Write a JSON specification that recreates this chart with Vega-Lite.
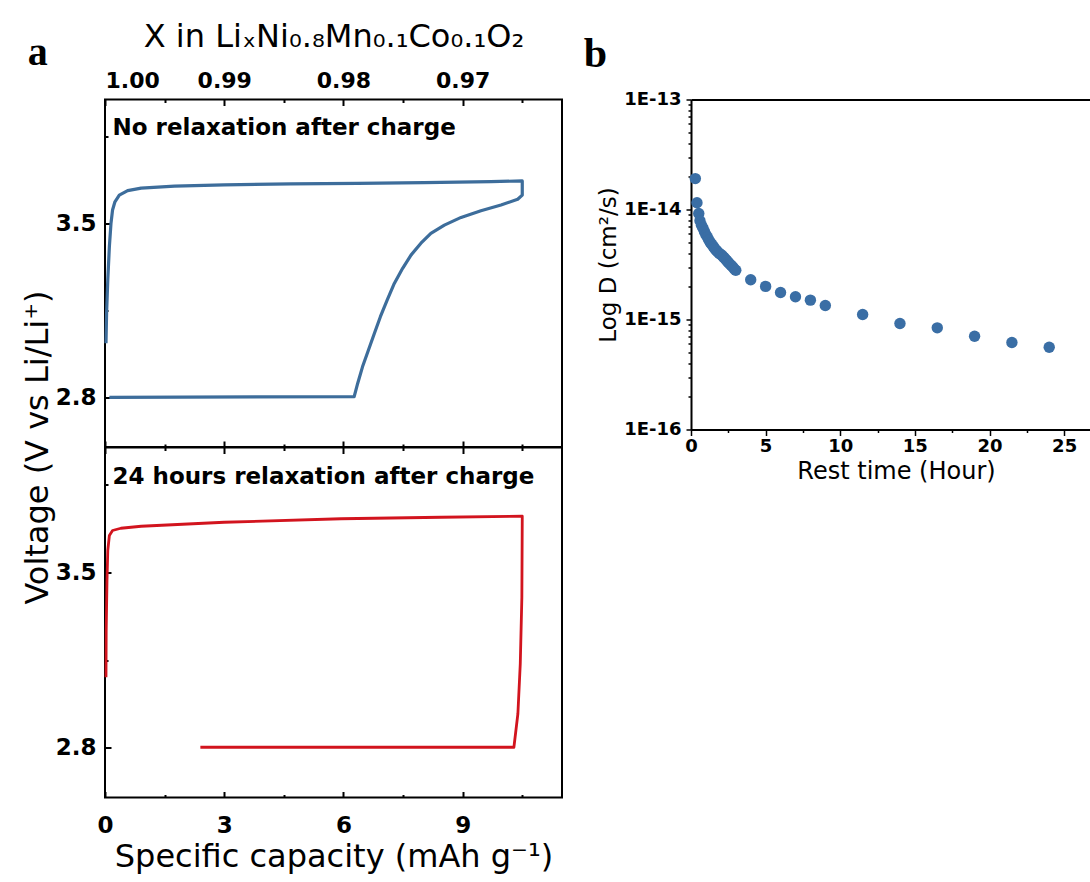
{
  "$schema": "https://vega.github.io/schema/vega-lite/v6.json",
  "background": "white",
  "padding": {"left": 20, "top": 19.5, "right": 0, "bottom": 0},
  "config": {
    "font": "DejaVu Sans",
    "view": {"stroke": "black", "strokeWidth": 2},
    "axis": {"grid": false, "labelColor": "black", "titleColor": "black", "tickColor": "black", "domainColor": "black", "labelFont": "DejaVu Sans", "titleFont": "DejaVu Sans", "labelFontWeight": "bold", "titleFontWeight": "normal"}
  },
  "bounds": "flush",
  "columns": 2,
  "spacing": {"row": 0, "column": 129},
  "concat": [
    {
      "width": 457,
      "height": 347.5,
      "layer": [
        {
          "data": {"values": [
            {"o": 1, "cap": 0.025, "v": 3.018},
            {"o": 2, "cap": 0.04, "v": 3.139},
            {"o": 3, "cap": 0.07, "v": 3.273},
            {"o": 4, "cap": 0.11, "v": 3.407},
            {"o": 5, "cap": 0.15, "v": 3.5},
            {"o": 6, "cap": 0.19, "v": 3.555},
            {"o": 7, "cap": 0.25, "v": 3.588},
            {"o": 8, "cap": 0.36, "v": 3.615},
            {"o": 9, "cap": 0.57, "v": 3.633},
            {"o": 10, "cap": 0.91, "v": 3.643},
            {"o": 11, "cap": 1.75, "v": 3.651},
            {"o": 12, "cap": 3.0, "v": 3.656},
            {"o": 13, "cap": 4.68, "v": 3.66},
            {"o": 14, "cap": 6.36, "v": 3.662},
            {"o": 15, "cap": 8.03, "v": 3.665},
            {"o": 16, "cap": 9.71, "v": 3.669},
            {"o": 17, "cap": 10.5, "v": 3.672},
            {"o": 18, "cap": 10.5, "v": 3.615},
            {"o": 19, "cap": 10.385, "v": 3.598},
            {"o": 20, "cap": 9.965, "v": 3.575},
            {"o": 21, "cap": 9.46, "v": 3.552},
            {"o": 22, "cap": 8.96, "v": 3.525},
            {"o": 23, "cap": 8.54, "v": 3.494},
            {"o": 24, "cap": 8.2, "v": 3.461},
            {"o": 25, "cap": 7.95, "v": 3.421},
            {"o": 26, "cap": 7.7, "v": 3.373},
            {"o": 27, "cap": 7.49, "v": 3.32},
            {"o": 28, "cap": 7.28, "v": 3.259},
            {"o": 29, "cap": 7.1, "v": 3.192},
            {"o": 30, "cap": 6.93, "v": 3.125},
            {"o": 31, "cap": 6.78, "v": 3.058},
            {"o": 32, "cap": 6.63, "v": 2.991},
            {"o": 33, "cap": 6.48, "v": 2.923},
            {"o": 34, "cap": 6.36, "v": 2.857},
            {"o": 35, "cap": 6.27, "v": 2.803},
            {"o": 36, "cap": 0.11, "v": 2.8}
          ]},
          "mark": {"type": "line", "color": "#3d6d9b", "strokeWidth": 3.2, "strokeJoin": "round"},
          "encoding": {
            "x": {"field": "cap", "type": "quantitative", "scale": {"domain": [0, 11.5], "nice": false},
              "axis": {"orient": "bottom", "values": [0, 1.5, 3, 4.5, 6, 7.5, 9, 10.5], "domain": false, "labels": false, "title": null, "tickWidth": 2,
                "tickSize": {"condition": {"test": "datum.value % 3 != 0", "value": -3}, "value": -6}}},
            "y": {"field": "v", "type": "quantitative", "scale": {"domain": [2.6, 4.0], "nice": false},
              "axis": {"orient": "left", "values": [2.8, 3.15, 3.5, 3.85], "domain": false, "tickWidth": 2,
                "tickSize": {"condition": {"test": "abs(datum.value - 2.8) < 0.01 || abs(datum.value - 3.5) < 0.01", "value": -6}, "value": -3},
                "labelExpr": "(abs(datum.value - 2.8) < 0.01 || abs(datum.value - 3.5) < 0.01) ? format(datum.value, '.1f') : ''",
                "labelFontSize": 23, "labelPadding": 15, "labelBaseline": "middle",
                "title": "Voltage (V vs Li/Li⁺)", "titleFontSize": 32, "titleAngle": -90, "titleAlign": "center", "titleBaseline": "alphabetic", "titleX": -58, "titleY": 347.5}},
            "order": {"field": "o", "type": "quantitative"}
          }
        },
        {
          "data": {"values": [{"label": "No relaxation after charge"}]},
          "mark": {"type": "text", "align": "left", "baseline": "alphabetic", "fontSize": 23, "fontWeight": "bold", "font": "DejaVu Sans", "color": "black"},
          "encoding": {
            "x": {"datum": 0.19, "type": "quantitative",
              "axis": {"orient": "top", "values": [0, 1.5, 3, 4.5, 6, 7.5, 9, 10.5], "domain": false, "tickWidth": 2,
                "tickSize": {"condition": {"test": "datum.value % 3 != 0", "value": -3}, "value": -6},
                "labelExpr": "datum.value % 3 == 0 ? format(1 - datum.value / 300, '.2f') : ''",
                "labelFontSize": 22, "labelPadding": 18, "labelBaseline": "alphabetic",
                "title": "X in LiₓNi₀.₈Mn₀.₁Co₀.₁O₂", "titleFontSize": 32, "titleX": 228.5, "titleY": -53, "titleBaseline": "alphabetic", "titleAlign": "center"}},
            "y": {"datum": 3.855, "type": "quantitative"},
            "text": {"field": "label"}
          }
        },
        {
          "data": {"values": [{"label": "a"}]},
          "mark": {"type": "text", "align": "left", "baseline": "alphabetic", "fontSize": 40, "fontWeight": "bold", "font": "Liberation Serif", "color": "black"},
          "encoding": {
            "x": {"datum": -1.945, "type": "quantitative", "axis": null},
            "y": {"datum": 4.139, "type": "quantitative"},
            "text": {"field": "label"}
          }
        }
      ],
      "resolve": {"axis": {"x": "independent"}}
    },
    {
      "width": 400,
      "height": 330,
      "view": {"stroke": null},
      "layer": [
        {
          "data": {"values": [
            {"t": 0.29, "D": 1.91e-14},
            {"t": 0.4, "D": 1.15e-14},
            {"t": 0.52, "D": 9.2e-15},
            {"t": 0.6, "D": 7.9e-15},
            {"t": 0.7, "D": 7.2e-15},
            {"t": 0.8, "D": 6.8e-15},
            {"t": 0.9, "D": 6.3e-15},
            {"t": 1.0, "D": 5.9e-15},
            {"t": 1.1, "D": 5.6e-15},
            {"t": 1.2, "D": 5.25e-15},
            {"t": 1.3, "D": 5.0e-15},
            {"t": 1.4, "D": 4.8e-15},
            {"t": 1.5, "D": 4.6e-15},
            {"t": 1.6, "D": 4.4e-15},
            {"t": 1.7, "D": 4.25e-15},
            {"t": 1.8, "D": 4.1e-15},
            {"t": 1.9, "D": 3.98e-15},
            {"t": 2.0, "D": 3.9e-15},
            {"t": 2.1, "D": 3.8e-15},
            {"t": 2.2, "D": 3.67e-15},
            {"t": 2.3, "D": 3.55e-15},
            {"t": 2.4, "D": 3.43e-15},
            {"t": 2.5, "D": 3.3e-15},
            {"t": 2.6, "D": 3.2e-15},
            {"t": 2.7, "D": 3.1e-15},
            {"t": 2.8, "D": 3.0e-15},
            {"t": 2.9, "D": 2.88e-15},
            {"t": 3.0, "D": 2.8e-15},
            {"t": 4.0, "D": 2.3e-15},
            {"t": 5.0, "D": 2.0e-15},
            {"t": 6.0, "D": 1.76e-15},
            {"t": 7.0, "D": 1.61e-15},
            {"t": 8.0, "D": 1.5e-15},
            {"t": 9.0, "D": 1.34e-15},
            {"t": 11.5, "D": 1.11e-15},
            {"t": 14.0, "D": 9.2e-16},
            {"t": 16.5, "D": 8.4e-16},
            {"t": 19.0, "D": 7.05e-16},
            {"t": 21.5, "D": 6.18e-16},
            {"t": 24.0, "D": 5.6e-16}
          ]},
          "mark": {"type": "circle", "size": 130, "color": "#3a6ea5", "opacity": 1},
          "encoding": {
            "x": {"field": "t", "type": "quantitative", "scale": {"domain": [0, 26.8], "nice": false},
              "axis": {"orient": "bottom", "values": [0, 2.5, 5, 7.5, 10, 12.5, 15, 17.5, 20, 22.5, 25], "domain": true, "domainWidth": 2, "tickWidth": 1.5,
                "tickSize": {"condition": {"test": "datum.value % 5 != 0", "value": 3}, "value": 6},
                "labelExpr": "datum.value % 5 == 0 ? datum.label : ''", "labelFontSize": 18, "labelPadding": 2, "labelBaseline": "top", "labelFlush": false,
                "title": "Rest time (Hour)", "titleFontSize": 24, "titleY": 49, "titleBaseline": "alphabetic", "titleAlign": "center", "titleX": 205}},
            "y": {"field": "D", "type": "quantitative", "scale": {"type": "log", "domain": [1e-16, 1e-13], "nice": false},
              "axis": {"orient": "left", "values": [1e-16, 2e-16, 3e-16, 4e-16, 5e-16, 6e-16, 7e-16, 8e-16, 9e-16, 1e-15, 2e-15, 3e-15, 4e-15, 5e-15, 6e-15, 7e-15, 8e-15, 9e-15, 1e-14, 2e-14, 3e-14, 4e-14, 5e-14, 6e-14, 7e-14, 8e-14, 9e-14, 1e-13],
                "domain": true, "domainWidth": 2, "tickWidth": 1.5,
                "tickSize": {"condition": {"test": "abs(log(datum.value) / LN10 - round(log(datum.value) / LN10)) > 0.01", "value": 3}, "value": 5},
                "labelExpr": "abs(log(datum.value) / LN10 - round(log(datum.value) / LN10)) > 0.01 ? '' : '1E' + round(log(datum.value) / LN10)",
                "labelFontSize": 18, "labelPadding": 5, "labelBaseline": "middle", "labelFlush": false,
                "title": "Log D (cm²/s)", "titleFontSize": 23, "titleAngle": -90, "titleAlign": "center", "titleBaseline": "alphabetic", "titleX": -75.5, "titleY": 165}}
          }
        },
        {
          "data": {"values": [{"label": "b"}]},
          "mark": {"type": "text", "align": "left", "baseline": "alphabetic", "fontSize": 42, "fontWeight": "bold", "font": "Liberation Serif", "color": "black"},
          "encoding": {
            "x": {"datum": -7.19, "type": "quantitative",
              "axis": {"orient": "top", "domain": true, "domainWidth": 2, "ticks": false, "labels": false, "title": null}},
            "y": {"datum": 1.98e-13, "type": "quantitative"},
            "text": {"field": "label"}
          }
        }
      ],
      "resolve": {"axis": {"x": "independent"}}
    },
    {
      "width": 457,
      "height": 350,
      "layer": [
        {
          "data": {"values": [
            {"o": 1, "cap": 0.025, "v": 3.081},
            {"o": 2, "cap": 0.03, "v": 3.268},
            {"o": 3, "cap": 0.05, "v": 3.468},
            {"o": 4, "cap": 0.07, "v": 3.588},
            {"o": 5, "cap": 0.11, "v": 3.648},
            {"o": 6, "cap": 0.19, "v": 3.668},
            {"o": 7, "cap": 0.4, "v": 3.677},
            {"o": 8, "cap": 0.91, "v": 3.685},
            {"o": 9, "cap": 3.0, "v": 3.701},
            {"o": 10, "cap": 5.94, "v": 3.715},
            {"o": 11, "cap": 8.46, "v": 3.721},
            {"o": 12, "cap": 10.5, "v": 3.725},
            {"o": 13, "cap": 10.49, "v": 3.401},
            {"o": 14, "cap": 10.45, "v": 3.135},
            {"o": 15, "cap": 10.39, "v": 2.935},
            {"o": 16, "cap": 10.29, "v": 2.801},
            {"o": 17, "cap": 2.4, "v": 2.801}
          ]},
          "mark": {"type": "line", "color": "#d2141e", "strokeWidth": 2.8, "strokeJoin": "round"},
          "encoding": {
            "x": {"field": "cap", "type": "quantitative", "scale": {"domain": [0, 11.5], "nice": false},
              "axis": {"orient": "bottom", "values": [0, 1.5, 3, 4.5, 6, 7.5, 9, 10.5], "domain": false, "tickWidth": 2,
                "tickSize": {"condition": {"test": "datum.value % 3 != 0", "value": -3}, "value": -6},
                "labelExpr": "datum.value % 3 == 0 ? datum.label : ''",
                "labelFontSize": 23, "labelPadding": 41, "labelBaseline": "alphabetic", "labelFlush": false,
                "title": "Specific capacity (mAh g⁻¹)", "titleFontSize": 32, "titleX": 228.5, "titleY": 68.7, "titleBaseline": "alphabetic", "titleAlign": "center"}},
            "y": {"field": "v", "type": "quantitative", "scale": {"domain": [2.6, 4.0], "nice": false},
              "axis": {"orient": "left", "values": [2.8, 3.15, 3.5, 3.85], "domain": false, "tickWidth": 2,
                "tickSize": {"condition": {"test": "abs(datum.value - 2.8) < 0.01 || abs(datum.value - 3.5) < 0.01", "value": -6}, "value": -3},
                "labelExpr": "(abs(datum.value - 2.8) < 0.01 || abs(datum.value - 3.5) < 0.01) ? format(datum.value, '.1f') : ''",
                "labelFontSize": 23, "labelPadding": 15, "labelBaseline": "middle", "title": null}},
            "order": {"field": "o", "type": "quantitative"}
          }
        },
        {
          "data": {"values": [{"label": "24 hours relaxation after charge"}]},
          "mark": {"type": "text", "align": "left", "baseline": "alphabetic", "fontSize": 23, "fontWeight": "bold", "font": "DejaVu Sans", "color": "black"},
          "encoding": {
            "x": {"datum": 0.19, "type": "quantitative",
              "axis": {"orient": "top", "values": [0, 1.5, 3, 4.5, 6, 7.5, 9, 10.5], "domain": false, "labels": false, "title": null, "tickWidth": 2,
                "tickSize": {"condition": {"test": "datum.value % 3 != 0", "value": -3}, "value": -6}}},
            "y": {"datum": 3.855, "type": "quantitative"},
            "text": {"field": "label"}
          }
        }
      ],
      "resolve": {"axis": {"x": "independent"}}
    }
  ]
}
